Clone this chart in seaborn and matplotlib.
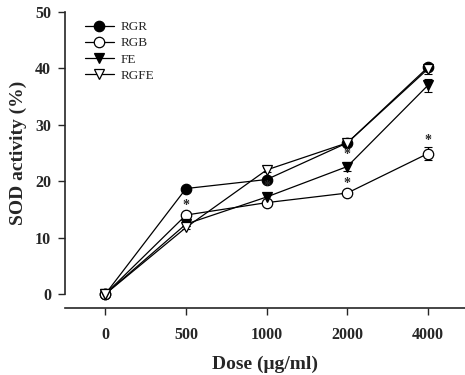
import matplotlib
matplotlib.use("Agg")
import matplotlib.pyplot as plt
import seaborn as sns
import pandas as pd
import numpy as np

doses = ["0", "500", "1000", "2000", "4000"]
rgr = [0.0, 18.7, 20.3, 26.8, 40.2]
rgb = [0.0, 14.0, 16.2, 17.9, 24.9]
fe = [0.0, 12.4, 17.2, 22.6, 37.0]
rgfe = [0.0, 11.8, 22.0, 26.8, 39.9]
rgr_err = [0.2, 0.3, 0.4, 0.4, 0.5]
rgb_err = [0.2, 0.4, 0.4, 0.4, 1.1]
fe_err = [0.2, 0.4, 0.5, 0.8, 1.2]
rgfe_err = [0.2, 0.3, 0.3, 0.4, 0.9]
rgb_sig = [False, True, False, True, True]
fe_sig = [False, False, True, True, False]

sns.set_style("ticks")
plt.rcParams['font.family'] = ['Liberation Serif', 'DejaVu Serif']
plt.rcParams['font.weight'] = 'bold'
plt.rcParams['xtick.labelsize'] = 11.5
plt.rcParams['ytick.labelsize'] = 11.5

fig = plt.figure(figsize=(4.65, 3.75), dpi=100)
ax = fig.add_axes([0.14, 0.216, 0.86, 0.752])

series = [
    ("RGR", rgr, rgr_err, "o", "black"),
    ("RGB", rgb, rgb_err, "o", "white"),
    ("FE", fe, fe_err, "v", "black"),
    ("RGFE", rgfe, rgfe_err, "v", "white"),
]
x = np.arange(len(doses))
for name, vals, err, mk, fc in series:
    df = pd.DataFrame({"x": x, "y": vals})
    sns.lineplot(data=df, x="x", y="y", ax=ax, color="black", linewidth=0.9,
                 marker=mk, markersize=7.5, markerfacecolor=fc,
                 markeredgecolor="black", markeredgewidth=0.9, label=name,
                 clip_on=False, zorder=3)
    ax.errorbar(x, vals, yerr=err, fmt="none", ecolor="black", elinewidth=0.8,
                capsize=3, capthick=0.8, zorder=2, clip_on=False)

for vals, err, sig in [(rgb, rgb_err, rgb_sig), (fe, fe_err, fe_sig)]:
    for xi, v, e, s in zip(x, vals, err, sig):
        if s:
            ax.text(xi, v + e + 1.3, "*", ha="center", va="center",
                    fontsize=10, fontweight="bold")

ax.set_xlim(-0.5, 4.46)
ax.set_ylim(0, 50)
ax.set_xticks(x)
ax.set_xticklabels(doses, fontweight="bold", fontsize=11.5)
ax.set_yticks([0, 10, 20, 30, 40, 50])
ax.set_yticklabels(["0", "10", "20", "30", "40", "50"], fontweight="bold", fontsize=11.5)
ax.tick_params(direction="out", length=5, width=1)
ax.tick_params(axis="x", pad=9)
ax.tick_params(axis="y", pad=5)
ax.spines["top"].set_visible(False)
ax.spines["right"].set_visible(False)
ax.spines["bottom"].set_position(("outward", 10))
ax.spines["left"].set_linewidth(1.2)
ax.spines["bottom"].set_linewidth(1.2)
ax.set_xlabel("Dose (\u03bcg/ml)", fontsize=14, fontweight="bold", labelpad=9)
ax.set_ylabel("SOD activity (%)", fontsize=14, fontweight="bold", labelpad=6)

leg = ax.legend(loc="upper left", bbox_to_anchor=(0.02, 1.01), frameon=False,
                prop={"family": "Liberation Serif", "weight": "normal", "size": 9.5},
                handlelength=2.2, labelspacing=0.3, handletextpad=0.5)

fig.savefig("out.png", dpi=100)
